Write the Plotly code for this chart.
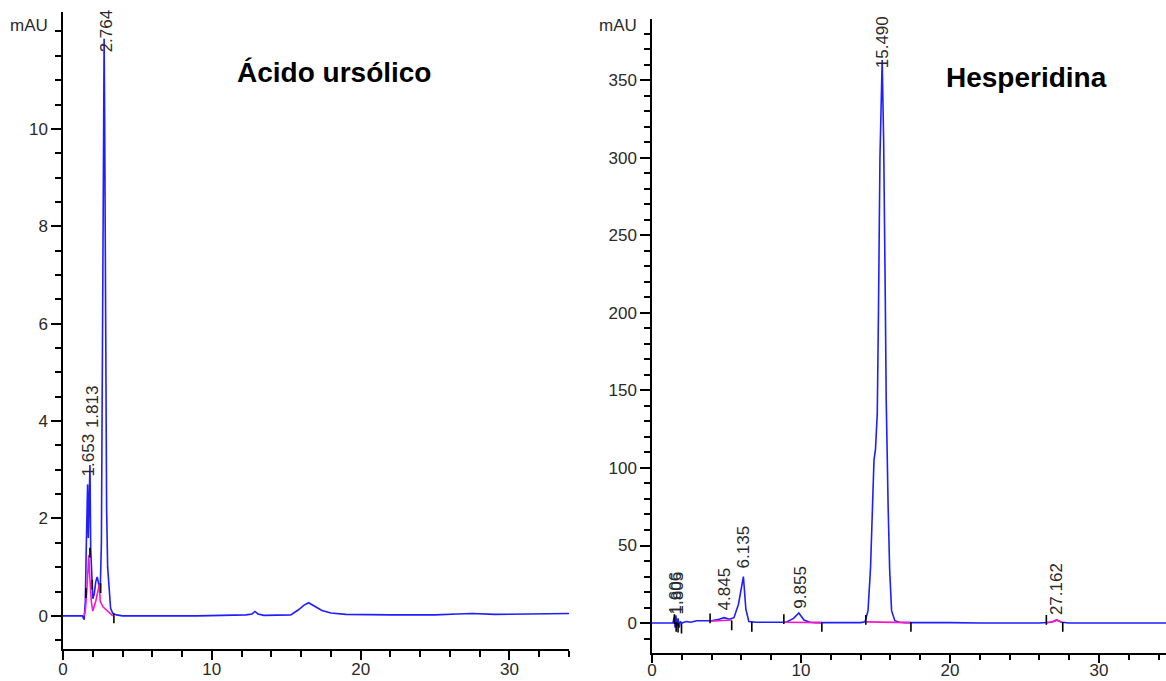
import plotly.graph_objects as go

# ---------------- data: Ácido ursólico (left) ----------------
ua_t = [0.0, 0.5, 1.0, 1.3, 1.42, 1.5, 1.55, 1.6, 1.653, 1.7, 1.75, 1.813, 1.86, 1.92,
        2.0, 2.1, 2.2, 2.3, 2.4, 2.5, 2.58, 2.65, 2.72, 2.764, 2.8, 2.86, 2.93, 3.0,
        3.1, 3.2, 3.35, 3.6, 4.0, 6.0, 9.0, 12.3, 12.7, 12.9, 13.1, 13.5, 15.3, 15.8,
        16.2, 16.5, 16.9, 17.4, 18.0, 19.0, 22.0, 25.0, 26.5, 27.5, 29.0, 31.0, 33.0, 34.0]
ua_v = [0.0, 0.0, 0.0, 0.0, -0.08, 0.3, 1.2, 2.2, 2.7, 1.6, 2.3, 3.1, 1.4, 0.7,
        0.35, 0.45, 0.7, 0.8, 0.65, 0.5, 1.5, 5.5, 10.5, 11.85, 10.2, 5.0, 2.2, 1.0,
        0.45, 0.15, 0.05, 0.02, 0.0, 0.0, 0.0, 0.02, 0.04, 0.09, 0.04, 0.01, 0.02, 0.12,
        0.22, 0.27, 0.2, 0.11, 0.06, 0.03, 0.02, 0.02, 0.04, 0.05, 0.03, 0.04, 0.05, 0.05]
ua_fit_t = [1.4, 1.5, 1.6, 1.73, 1.8, 1.9, 2.0, 2.2, 2.45, 2.5, 2.7, 3.0, 3.35]
ua_fit_v = [0.0, 0.1, 0.5, 1.25, 0.8, 0.3, 0.1, 0.3, 0.65, 0.3, 0.18, 0.1, 0.0]
ua_mark_t = [1.54, 1.81, 1.97, 2.53, 3.42]
ua_mark_v = [0.47, 1.3, 0.64, 0.57, -0.05]
ua_labels = ["1.653", "1.813", "2.764"]
ua_label_t = [1.74, 2.0, 2.89]
ua_label_v = [2.83, 3.82, 11.52]

# ---------------- data: Hesperidina (right) ----------------
he_t = [0.0, 1.0, 1.4, 1.5, 1.55, 1.6, 1.68, 1.75, 1.82, 1.9, 2.0, 2.3, 2.6, 3.0, 3.5,
        4.0, 4.5, 4.845, 5.2, 5.5, 5.8, 6.0, 6.135, 6.3, 6.5, 7.0, 8.0, 9.0, 9.5, 9.855,
        10.2, 10.6, 11.0, 14.0, 14.3, 14.5, 14.67, 14.78, 14.9, 15.0, 15.12, 15.2, 15.3,
        15.45, 15.55, 15.66, 15.72, 15.85, 15.95, 16.08, 16.3, 16.6, 17.0, 20.0, 22.0,
        26.0, 26.8, 27.162, 27.5, 28.0, 30.0, 34.5]
he_v = [0.0, 0.0, 0.0, 4.0, -3.0, 5.0, -2.0, 3.0, -3.0, 1.0, 0.0, 1.0, 0.5, 1.5, 1.5,
        1.5, 2.5, 3.5, 2.5, 3.5, 12.0, 22.0, 30.0, 9.0, 1.0, 0.5, 0.5, 0.5, 3.0, 6.5,
        2.0, 0.5, 0.3, 0.3, 0.8, 8.0, 36.0, 71.0, 105.0, 112.0, 135.0, 200.0, 300.0,
        363.0, 310.0, 208.0, 144.0, 75.0, 35.0, 8.0, 1.5, 0.5, 0.3, 0.3, 0.0,
        0.0, 0.5, 2.0, 0.5, 0.0, 0.0, 0.0]
he_base_t = [3.9, 5.35, None, 8.85, 11.4, None, 14.35, 17.38, None, 26.47, 27.0, 27.162, 27.35, 27.57]
he_base_v = [1.2, 2.0, None, 0.5, 0.3, None, 0.8, 0.3, None, 0.2, 1.0, 2.0, 1.0, 0.2]
he_mark_t = [1.5, 1.62, 1.75, 1.98, 3.9, 5.35, 6.7, 8.85, 11.4, 14.35, 17.38, 26.47, 27.57]
he_mark_v = [2.5, -2.5, -3.0, -3.5, 3.0, -1.5, -2.5, 2.5, -2.5, 2.0, -2.5, 2.0, -2.5]
he_labels = ["1.606", "1.805", "4.845", "6.135", "9.855", "15.490", "27.162"]
he_label_t = [1.55, 1.68, 4.88, 6.15, 9.97, 15.45, 27.2]
he_label_v = [4.0, 4.0, 7.0, 34.0, 8.0, 356.5, 4.0]

titles = ["Ácido ursólico", "Hesperidina"]
unit = "mAU"

FONT = "Liberation Sans, Arial, sans-serif"
BLUE = "rgb(30,30,255)"
PINK = "rgb(255,20,200)"
TXT = "#2a2a2a"

fig = go.Figure()
fig.add_trace(go.Scatter(x=ua_t, y=ua_v, mode="lines", line=dict(color=BLUE, width=1.6),
                         xaxis="x", yaxis="y", showlegend=False))
fig.add_trace(go.Scatter(x=ua_fit_t, y=ua_fit_v, mode="lines", line=dict(color=PINK, width=1.6),
                         xaxis="x", yaxis="y", showlegend=False))
fig.add_trace(go.Scatter(x=ua_mark_t, y=ua_mark_v, mode="markers",
                         marker=dict(symbol="line-ns", size=7, line=dict(color="black", width=1.6)),
                         xaxis="x", yaxis="y", showlegend=False))
fig.add_trace(go.Scatter(x=he_t, y=he_v, mode="lines", line=dict(color=BLUE, width=1.6),
                         xaxis="x2", yaxis="y2", showlegend=False))
fig.add_trace(go.Scatter(x=he_base_t, y=he_base_v, mode="lines", line=dict(color=PINK, width=1.6),
                         xaxis="x2", yaxis="y2", showlegend=False, connectgaps=False))
fig.add_trace(go.Scatter(x=he_mark_t, y=he_mark_v, mode="markers",
                         marker=dict(symbol="line-ns", size=7, line=dict(color="black", width=1.6)),
                         xaxis="x2", yaxis="y2", showlegend=False))

axis_common = dict(showline=True, linecolor="black", linewidth=1.5, showgrid=False, zeroline=False,
                   ticks="outside", tickwidth=1.5, tickcolor="black", automargin=False,
                   tickfont=dict(family=FONT, size=17, color=TXT), fixedrange=True)
x_minor = dict(dtick=2, ticklen=6, tickwidth=1.5, tickcolor="black", ticks="outside")

fig.update_layout(
    width=1166, height=681, margin=dict(l=0, r=0, t=0, b=0, pad=0, autoexpand=False),
    paper_bgcolor="white", plot_bgcolor="white",
    xaxis=dict(domain=[63/1166, 569/1166], range=[0, 34], dtick=10, anchor="y",
               ticklen=9, ticklabelstandoff=-5, minor=x_minor, **axis_common),
    yaxis=dict(domain=[1-649/681, 1-12/681], range=[-0.68, 12.4], tickvals=[0, 2, 4, 6, 8, 10],
               anchor="x", ticklen=10,
               minor=dict(dtick=0.5, ticklen=6, tickwidth=1.5, tickcolor="black", ticks="outside"),
               **axis_common),
    xaxis2=dict(domain=[652/1166, 1.0], range=[0, 34.5], dtick=10, anchor="y2",
                ticklen=9, ticklabelstandoff=-8, minor=x_minor, **axis_common),
    yaxis2=dict(domain=[1-652.7/681, 1-19/681], range=[-19.1, 389.4],
                tickvals=[0, 50, 100, 150, 200, 250, 300, 350], anchor="x2", ticklen=10,
                minor=dict(dtick=10, ticklen=6, tickwidth=1.5, tickcolor="black", ticks="outside"),
                **axis_common),
)

ann = []
for lab, t, v in zip(ua_labels, ua_label_t, ua_label_v):
    ann.append(dict(x=t, y=v, xref="x", yref="y", text=lab, textangle=-90, showarrow=False,
                    xanchor="center", yanchor="bottom", font=dict(family=FONT, size=17, color=TXT)))
for lab, t, v in zip(he_labels, he_label_t, he_label_v):
    ann.append(dict(x=t, y=v, xref="x2", yref="y2", text=lab, textangle=-90, showarrow=False,
                    xanchor="center", yanchor="bottom", font=dict(family=FONT, size=17, color=TXT)))
ann.append(dict(x=334/1166, y=1-73/681, xref="paper", yref="paper", text="<b>%s</b>" % titles[0],
                showarrow=False, xanchor="center", yanchor="middle",
                font=dict(family=FONT, size=28, color="black")))
ann.append(dict(x=1026/1166, y=1-77/681, xref="paper", yref="paper", text="<b>%s</b>" % titles[1],
                showarrow=False, xanchor="center", yanchor="middle",
                font=dict(family=FONT, size=28, color="black")))
ann.append(dict(x=29/1166, y=1-26/681, xref="paper", yref="paper", text=unit, showarrow=False,
                xanchor="center", yanchor="middle", font=dict(family=FONT, size=17, color=TXT)))
ann.append(dict(x=618/1166, y=1-26/681, xref="paper", yref="paper", text=unit, showarrow=False,
                xanchor="center", yanchor="middle", font=dict(family=FONT, size=17, color=TXT)))
fig.update_layout(annotations=ann)

fig.write_html("out.html")
